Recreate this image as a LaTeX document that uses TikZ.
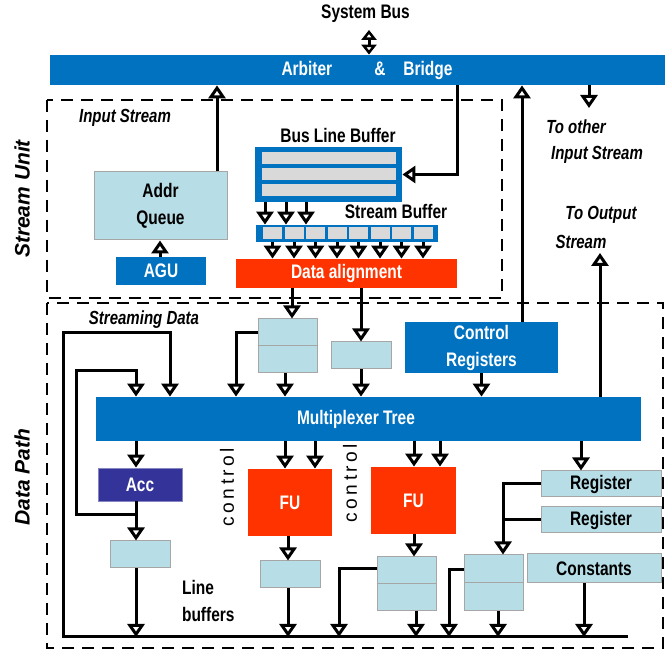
\documentclass[tikz,border=0pt]{standalone}
\usepackage{fontspec}
\setmainfont{Liberation Sans}[FakeStretch=0.79]
\newfontfamily\widesans{Liberation Sans}
\usetikzlibrary{arrows.meta, positioning}

\definecolor{barblue}{RGB}{0,114,192}
\definecolor{paleblue}{RGB}{183,222,230}
\definecolor{fured}{RGB}{255,51,0}
\definecolor{accblue}{RGB}{51,51,153}
\definecolor{cellgray}{RGB}{217,217,217}

\begin{document}
\begin{tikzpicture}[x=0.5pt, y=-0.5pt,
				every node/.style={font=\fontsize{9.8}{13.5}\selectfont\bfseries},
				bar/.style={fill=barblue, text=white, inner sep=0pt},
				bluebox/.style={fill=barblue, text=white, inner sep=0pt, align=center},
				redbox/.style={fill=fured, text=white, inner sep=0pt},
				accbox/.style={fill=accblue, draw=accblue!60, text=white, inner sep=0pt},
				pale/.style={fill=paleblue, draw=gray!70, line width=0.5pt, inner sep=0pt},
				frame/.style={fill=barblue, inner sep=0pt},
				row/.style={fill=cellgray, inner sep=0pt},
				tag/.style={font=\fontsize{9.5}{11}\selectfont\bfseries\itshape},
				side/.style={font=\widesans\fontsize{10.5}{12}\selectfont\bfseries\itshape},
				ctl/.style={font=\widesans\fontsize{9.6}{11}\selectfont\addfontfeature{LetterSpace=18}},
				region/.style={line width=1.4pt, dash pattern=on 6pt off 4pt},
				wire/.style={line width=1.5pt},
				arrow/.style={-{Triangle[open, length=6.5pt, width=8.5pt]}, line width=1.5pt}]
				
				\useasboundingbox (0,0) rectangle (665,651);
				
				% system bus and bridge
				\node[bar, minimum width=307.5pt, minimum height=15pt] (arbiter) at (357.5,70) {};
				\node[text=white] (bridge) at (367,70) {Arbiter\hspace{21pt}\&\hspace{9pt}Bridge};
				\node (sysbus) at (365.5,14) {System Bus};
				\draw[{Triangle[open, length=5pt, width=7.5pt]}-{Triangle[open, length=5pt, width=7.5pt]}, line width=1.5pt]
					(sysbus.south -| 369,0) -- (arbiter.north -| 369,0);
				
				% stream unit
				\draw[region] (47,100) rectangle (502,298);
				\node[tag] (instream) at (125,118) {Input Stream};
				\node[side, rotate=90] (sunit) at (22,199) {Stream Unit};
				
				\node[pale, minimum width=66.5pt, minimum height=34pt, align=center] (addr) at (160.5,206) {Addr\\Queue};
				\node[bluebox, minimum width=45pt, minimum height=14pt] (agu) at (161,271) {AGU};
				\draw[arrow] (agu.north -| 160,0) -- (addr.south -| 160,0);
				\draw[arrow] (addr.north -| 217,0) -- (arbiter.south -| 217,0);
				
				\node (blbtitle) at (338,136) {Bus Line Buffer};
				\node[frame, minimum width=73.5pt, minimum height=27.5pt] (blb) at (328.5,174.5) {};
				\foreach \y [count=\i] in {158,174,190}
					\node[row, minimum width=67pt, minimum height=6pt] (row\i) at (329,\y) {};
				\draw[arrow] (arbiter.south -| 457,0) |- (blb.east);
				
				\node (sbtitle) at (396,212) {Stream Buffer};
				\node[frame, minimum width=91pt, minimum height=8.5pt] (sbuf) at (347,233.5) {};
				\foreach \i in {0,...,7}
					\node[row, minimum width=9.5pt, minimum height=6pt] (cell\i) at ({272.5+21.5*\i},233.5) {};
				\foreach \x in {265,286,306}
					\draw[arrow] (blb.south -| \x,0) -- (sbuf.north -| \x,0);
				
				\node[redbox, minimum width=110.5pt, minimum height=14.5pt] (dalign) at (346.5,273.5) {Data alignment};
				\foreach \i in {0,...,7}
					\draw[arrow] (sbuf.south -| cell\i) -- (dalign.north -| cell\i);
				
				% outside the stream unit
				\coordinate (toother) at (589,108);
				\draw[arrow] (arbiter.south -| toother) -- (toother);
				\node[tag] (othera) at (576,127) {To other};
				\node[tag] (otherb) at (597,155) {Input Stream};
				\node[tag] (outa) at (601,215) {To Output};
				\node[tag] (outb) at (581,242) {Stream};
				\coordinate (toout) at (600,253);
				
				% data path
				\draw[region] (47,303) rectangle (663,648);
				\node[side, rotate=90] (dpath) at (22,477) {Data Path};
				\node[tag] (streaming) at (144,320) {Streaming Data};
				
				\node[bar, minimum width=272.5pt, minimum height=22pt] (mux) at (368.5,419) {};
				\node[text=white] (muxtext) at (356,419) {Multiplexer Tree};
				\draw[arrow] (mux.north -| toout) -- (toout);
				
				\node[pale, minimum width=29.5pt, minimum height=27pt] (bufa) at (287.5,346) {};
				\draw[gray!70, line width=0.5pt] (bufa.west) -- (bufa.east);
				\node[pale, minimum width=30pt, minimum height=13.5pt] (bufb) at (361,355.5) {};
				\node[bluebox, minimum width=76.5pt, minimum height=25.5pt] (ctrl) at (481.5,347.5) {Control\\Registers};
				
				\draw[arrow] (dalign.south -| 292,0) -- (bufa.north -| 292,0);
				\draw[arrow] (dalign.south -| bufb) -- (bufb.north);
				\draw[arrow] (bufa.south -| 285,0) -- (mux.north -| 285,0);
				\draw[arrow] (bufa.west |- 0,333) -| (mux.north -| 236,0);
				\draw[arrow] (bufb.south) -- (mux.north -| bufb);
				\draw[arrow] (ctrl.south) -- (mux.north -| ctrl);
				\draw[arrow] (ctrl.north -| 522,0) -- (arbiter.south -| 522,0);
				
				% feedback paths
				\coordinate (busl) at (63,637);
				\coordinate (busr) at (628,637);
				\draw[arrow] (busr) -- (busl) -- (63,333) -| (mux.north -| 170,0);
				
				\node[accbox, minimum width=42pt, minimum height=16.5pt] (acc) at (140,484.5) {Acc};
				\node[pale, minimum width=30pt, minimum height=13.5pt] (lb1) at (140,554.5) {};
				\draw[arrow] (mux.south -| 136,0) -- (acc.north -| 136,0);
				\draw[arrow] (acc.south -| 136,0) -- (lb1.north -| 136,0);
				\draw[arrow] (lb1.south -| 136,0) -- (busl -| 136,0);
				\draw[arrow] (acc.south -| 136,0) |- (76,515) |- (110,371) -| (mux.north -| 136,0);
				\node[align=left, anchor=west] (lbtext) at (175,600.5) {Line\\buffers};
				
				\node[ctl, rotate=90] (ctla) at (227,487) {control};
				\node[ctl, rotate=90] (ctlb) at (350,483) {control};
				
				% functional units
				\node[redbox, minimum width=42pt, minimum height=33.5pt] (fua) at (290,502.5) {FU};
				\node[redbox, minimum width=42.5pt, minimum height=33.5pt] (fub) at (413.5,500.5) {FU};
				\foreach \x in {285,315}
					\draw[arrow] (mux.south -| \x,0) -- (fua.north -| \x,0);
				\foreach \x in {414,440}
					\draw[arrow] (mux.south -| \x,0) -- (fub.north -| \x,0);
				
				\node[pale, minimum width=30pt, minimum height=13.5pt] (bufc) at (290,574.5) {};
				\draw[arrow] (fua.south -| 288,0) -- (bufc.north -| 288,0);
				\draw[arrow] (bufc.south -| 288,0) -- (busl -| 288,0);
				
				\node[pale, minimum width=29.5pt, minimum height=27pt] (bufd) at (406.5,584) {};
				\draw[gray!70, line width=0.5pt] (bufd.west) -- (bufd.east);
				\draw[arrow] (fub.south -| 414,0) -- (bufd.north -| 414,0);
				\draw[arrow] (bufd.south -| 416,0) -- (busl -| 416,0);
				\draw[arrow] (bufd.west |- 0,569) -| (busl -| 339,0);
				
				\node[pale, minimum width=29.5pt, minimum height=28pt] (bufe) at (493.5,583) {};
				\draw[gray!70, line width=0.5pt] (bufe.west) -- (bufe.east);
				\draw[arrow] (bufe.south -| 498,0) -- (busl -| 498,0);
				\draw[arrow] (bufe.west |- 0,570) -| (busl -| 449,0);
				
				% registers and constants
				\node[pale, minimum width=60pt, minimum height=13pt] (rega) at (601,484) {Register};
				\node[pale, minimum width=60pt, minimum height=13pt, below=4.5pt of rega] (regb) {Register};
				\draw[arrow] (mux.south -| 581,0) -- (rega.north -| 581,0);
				\draw[arrow] (rega.west) -| (bufe.north -| 503,0);
				\draw[wire] (regb.west) -- (regb.west -| 503,0);
				
				\node[pale, minimum width=67pt, minimum height=14.5pt] (const) at (594,568.5) {Constants};
				\draw[arrow] (const.south -| 584,0) -- (busl -| 584,0);
			\end{tikzpicture}
\end{document}
